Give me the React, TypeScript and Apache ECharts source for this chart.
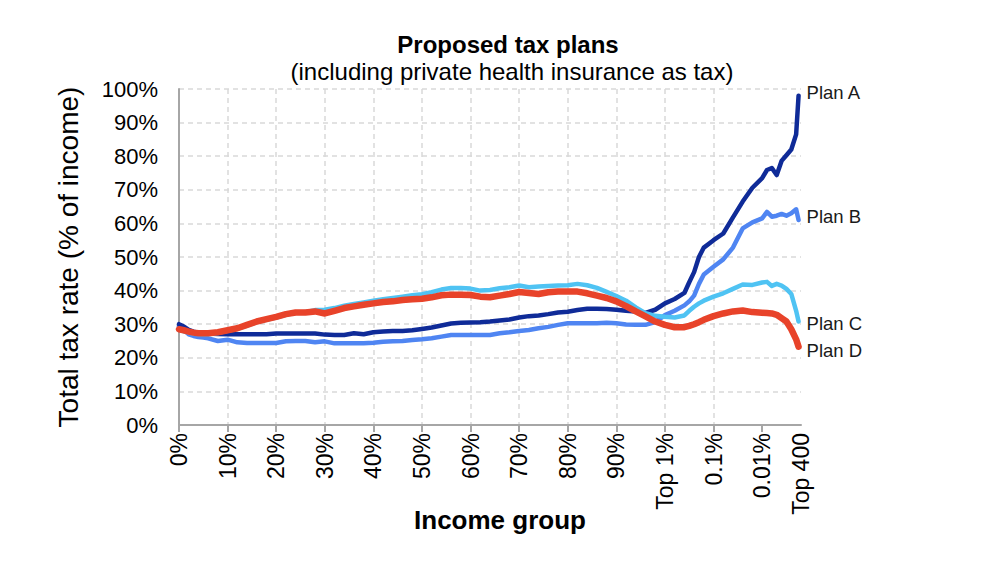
import React, { useEffect, useRef } from "react";
import * as echarts from "echarts";

// Income-group positions (0-90 = percentiles, 100 = Top 1%, 110 = 0.1%, 120 = 0.01%, 128 = Top 400)
const X_POS = [
  0, 1, 2, 3, 4, 5, 6, 8, 10, 12, 14, 16, 18, 20, 22, 24, 26, 28, 30, 32, 34, 36, 38, 40,
  42, 44, 46, 48, 50, 52, 54, 56, 58, 60, 62, 64, 66, 68, 70, 72, 74, 76, 78, 80, 82, 84,
  86, 88, 90, 92, 94, 96, 98, 100, 102, 104, 105, 106, 107, 108, 110, 112, 114, 116, 118,
  120, 121, 122, 123, 124, 125, 126, 127, 127.5,
];

const PLAN_A = [
  30.0, 29.3, 28.3, 27.8, 27.5, 27.3, 27.2, 27.1, 27.0, 27.0, 27.0, 27.0, 27.0, 27.2, 27.2, 27.2, 27.2, 27.2, 26.9, 26.8, 26.8, 27.3, 27.0, 27.6,
  27.8, 28.0, 28.0, 28.2, 28.6, 29.0, 29.6, 30.2, 30.4, 30.5, 30.6, 30.8, 31.1, 31.4, 32.0, 32.4, 32.6, 33.0, 33.5, 33.7, 34.2, 34.6,
  34.6, 34.5, 34.3, 34.0, 33.8, 33.4, 34.3, 36.2, 37.5, 39.3, 42.5, 45.5, 50.0, 52.8, 55.0, 57.0, 61.8, 66.5, 70.6,
  73.5, 75.9, 76.5, 74.4, 78.6, 80.3, 82.0, 86.5, 98.0,
];

const PLAN_B = [
  29.4, 28.3, 27.0, 26.5, 26.2, 26.0, 25.8, 25.0, 25.4, 24.6, 24.4, 24.4, 24.4, 24.4, 24.9, 25.0, 25.0, 24.6, 24.9, 24.3, 24.3, 24.3, 24.3, 24.5,
  24.8, 24.9, 25.0, 25.3, 25.5, 25.8, 26.3, 26.8, 26.8, 26.8, 26.8, 26.8, 27.3, 27.6, 28.0, 28.3, 28.8, 29.2, 29.8, 30.3, 30.3, 30.3,
  30.3, 30.4, 30.3, 29.9, 29.8, 29.8, 30.6, 32.7, 34.0, 35.6, 36.8, 38.5, 42.0, 44.8, 47.1, 49.3, 52.8, 58.5, 60.3,
  61.5, 63.4, 62.0, 62.3, 62.8, 62.3, 63.0, 64.2, 61.0,
];

const PLAN_C = [
  28.3, 27.9, 27.5, 27.2, 27.0, 27.0, 27.0, 27.4, 28.0, 28.6, 29.6, 30.6, 31.3, 32.0, 32.8, 33.4, 33.6, 34.2, 34.3, 34.8, 35.5, 36.0, 36.5, 37.0,
  37.4, 37.8, 38.2, 38.6, 38.9, 39.5, 40.3, 40.8, 40.8, 40.6, 40.0, 40.2, 40.7, 41.0, 41.5, 41.0, 41.2, 41.4, 41.5, 41.6, 42.0, 41.6,
  40.8, 39.6, 38.4, 37.0, 35.0, 33.3, 32.5, 32.2, 32.0, 32.6, 34.0, 35.2, 36.2, 37.0, 38.2, 39.2, 40.5, 41.8, 41.7,
  42.4, 42.6, 41.4, 42.0, 41.5, 40.5, 39.0, 34.0, 30.8,
];

const PLAN_D = [
  28.5, 28.2, 27.8, 27.5, 27.3, 27.3, 27.3, 27.6, 28.2, 28.8, 29.8, 30.8, 31.5, 32.2, 33.0, 33.5, 33.5, 33.8, 33.2, 34.0, 34.8, 35.3, 35.8, 36.2,
  36.6, 36.8, 37.2, 37.4, 37.6, 38.0, 38.6, 38.8, 38.8, 38.7, 38.2, 38.0, 38.5, 39.0, 39.6, 39.3, 39.0, 39.5, 39.7, 39.7, 39.7, 39.2,
  38.5, 37.8, 36.8, 35.4, 33.8, 32.3, 30.8, 29.8, 29.1, 29.1, 29.5, 30.0, 30.6, 31.3, 32.4, 33.2, 33.8, 34.1, 33.6,
  33.4, 33.3, 33.2, 32.8, 31.8, 30.8, 28.5, 25.5, 23.3,
];

const SERIES_NAMES = ["Plan A", "Plan B", "Plan C", "Plan D"];

const X_TICK_VALUES = [0, 10, 20, 30, 40, 50, 60, 70, 80, 90, 100, 110, 120, 128];
const X_TICK_LABELS = [
  "0%", "10%", "20%", "30%", "40%", "50%", "60%", "70%", "80%", "90%",
  "Top 1%", "0.1%", "0.01%", "Top 400",
];

const FONT = "'Liberation Sans', Arial, Helvetica, sans-serif";

export default function App() {
  const ref = useRef<HTMLDivElement>(null);

  useEffect(() => {
    document.body.style.margin = "0";
    if (!ref.current) return;
    const chart = echarts.init(ref.current, null, { renderer: "svg" });

    const mk = (vals: number[]) => X_POS.map((x, i) => [x, vals[i]]);

    const lineSeries = (
      name: string,
      vals: number[],
      color: string,
      width: number,
      offsetY: number,
      z: number
    ) => ({
      name,
      type: "line",
      data: mk(vals),
      showSymbol: false,
      symbol: "none",
      z,
      lineStyle: { color, width, join: "round", cap: "round" },
      itemStyle: { color },
      endLabel: {
        show: true,
        formatter: "{a}",
        color: "#1a1a1a",
        fontSize: 18.5,
        fontFamily: FONT,
        distance: 8,
        offset: [0, offsetY],
      },
      emphasis: { disabled: true },
    });

    chart.setOption({
      animation: false,
      backgroundColor: "#ffffff",
      title: [
        {
          text: "Proposed tax plans",
          left: 503,
          top: 27,
          textAlign: "center",
          textStyle: { fontFamily: FONT, fontSize: 24, fontWeight: "bold", color: "#000" },
        },
        {
          text: "(including private health insurance as tax)",
          left: 507,
          top: 54,
          textAlign: "center",
          textStyle: { fontFamily: FONT, fontSize: 24, fontWeight: "normal", color: "#000" },
        },
      ],
      grid: { left: 179, right: 199, top: 89, bottom: 146, containLabel: false },
      xAxis: {
        type: "value",
        min: 0,
        max: 128,
        interval: 10,
        name: "Income group",
        nameLocation: "middle",
        nameGap: 82,
        nameMoveOverlap: false,
        nameTextStyle: {
          fontFamily: FONT,
          fontSize: 26,
          fontWeight: "bold",
          color: "#000",
          padding: [0, 0, 0, 20],
        },
        axisLine: { show: true, onZero: false, lineStyle: { color: "#a6a6a6", width: 2 } },
        axisTick: {
          show: true,
          length: 7,
          inside: false,
          customValues: X_TICK_VALUES.slice(0, 13),
          lineStyle: { color: "#a6a6a6", width: 2 },
        },
        axisLabel: {
          show: true,
          rotate: 90,
          margin: 8,
          fontSize: 23,
          fontFamily: FONT,
          color: "#000",
          customValues: X_TICK_VALUES,
          formatter: (v: number) => {
            const idx = X_TICK_VALUES.findIndex((t) => Math.abs(t - v) < 1e-6);
            return idx >= 0 ? X_TICK_LABELS[idx] : "";
          },
        },
        splitLine: {
          show: true,
          showMinLine: false,
          showMaxLine: false,
          lineStyle: { color: "#d9d9d9", width: 1.5, type: [5, 4] },
        },
      },
      yAxis: {
        type: "value",
        min: 0,
        max: 100,
        interval: 10,
        name: "Total tax rate (% of income)",
        nameLocation: "middle",
        nameGap: 97,
        nameMoveOverlap: false,
        nameTextStyle: { fontFamily: FONT, fontSize: 28, color: "#000" },
        axisLine: { show: true, lineStyle: { color: "#a6a6a6", width: 2 } },
        axisTick: { show: false },
        axisLabel: {
          formatter: "{value}%",
          fontSize: 22,
          fontFamily: FONT,
          color: "#000",
          margin: 21,
        },
        splitLine: {
          show: true,
          lineStyle: { color: "#d9d9d9", width: 1.5, type: [5, 4] },
        },
      },
      series: [
        lineSeries(SERIES_NAMES[1], PLAN_B, "#4f85f2", 4.5, -4, 2),
        lineSeries(SERIES_NAMES[0], PLAN_A, "#0f2b98", 4.5, -3, 3),
        lineSeries(SERIES_NAMES[2], PLAN_C, "#4fc3f3", 4.5, 2, 4),
        lineSeries(SERIES_NAMES[3], PLAN_D, "#e8432a", 6.5, 4, 5),
      ],
    });

    return () => {
      chart.dispose();
    };
  }, []);

  return <div ref={ref} style={{ width: 1000, height: 571 }} />;
}
